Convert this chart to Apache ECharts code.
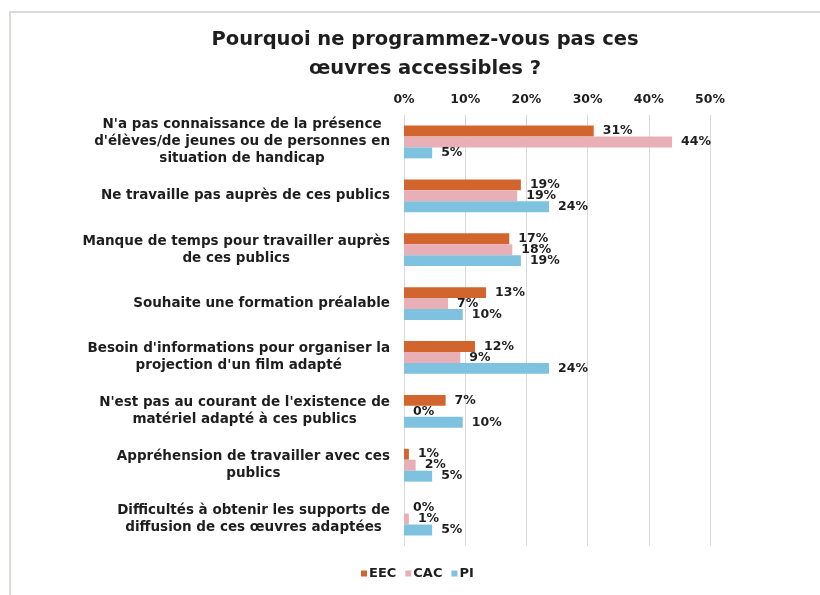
<!DOCTYPE html>
<html>
<head>
<meta charset="utf-8">
<script src="https://cdn.jsdelivr.net/npm/echarts@6/dist/echarts.min.js"></script>
<style>html,body{margin:0;padding:0;background:#fff;}#c{width:820px;height:595px;}</style>
</head>
<body>
<div id="c"></div>
<script>
const categories = [
  "N'a pas connaissance de la présence\nd'élèves/de jeunes ou de personnes en\nsituation de handicap",
  "Ne travaille pas auprès de ces publics",
  "Manque de temps pour travailler auprès\nde ces publics",
  "Souhaite une formation préalable",
  "Besoin d'informations pour organiser la\nprojection d'un film adapté",
  "N'est pas au courant de l'existence de\nmatériel adapté à ces publics",
  "Appréhension de travailler avec ces\npublics",
  "Difficultés à obtenir les supports de\ndiffusion de ces œuvres adaptées"
];
const seriesNames = ["EEC", "CAC", "PI"];
const eecValues = [31.0, 19.1, 17.2, 13.4, 11.6, 6.8, 0.8, 0];
const cacValues = [43.8, 18.5, 17.7, 7.2, 9.2, 0, 1.9, 0.8];
const piValues  = [4.6, 23.7, 19.1, 9.6, 23.7, 9.6, 4.6, 4.6];
const xTicks = [0, 10, 20, 30, 40, 50];
const colors = ["#D2642D", "#E8B0B6", "#7EC2E0"];

const FONT = "DejaVu Sans";
const TXT = "#1e1e1e";

const chart = echarts.init(document.getElementById('c'));
function mk(name, data, color) {
  return {
    name: name, type: 'bar', data: data,
    barGap: '0%', barCategoryGap: '39%',
    itemStyle: { color: color },
    label: {
      show: true, position: 'right', distance: 9,
      formatter: p => Math.round(p.value) + '%',
      fontFamily: FONT, fontWeight: 'bold', fontSize: 12.5, color: TXT
    }
  };
}
chart.setOption({
  animation: false,
  backgroundColor: '#fff',
  title: {
    text: 'Pourquoi ne programmez-vous pas ces\nœuvres accessibles ?',
    left: 420, top: 20, textAlign: 'center',
    textStyle: { fontFamily: FONT, fontWeight: 'bold', fontSize: 19.5, lineHeight: 29, color: TXT }
  },
  graphic: [
    { type: 'line', shape: { x1: 9, y1: 12, x2: 820, y2: 12 }, style: { stroke: '#dcdcd4', lineWidth: 2 } },
    { type: 'line', shape: { x1: 10, y1: 12, x2: 10, y2: 595 }, style: { stroke: '#dcdcd4', lineWidth: 2 } }
  ],
  legend: {
    data: seriesNames, bottom: 10, left: 356,
    icon: 'rect', itemWidth: 6, itemHeight: 6, itemGap: 9,
    textStyle: { fontFamily: FONT, fontWeight: 'bold', fontSize: 13, color: TXT, padding: [0, 0, 0, -3] }
  },
  grid: { left: 404, right: 110, top: 115, bottom: 49, containLabel: false },
  xAxis: {
    type: 'value', position: 'top', min: xTicks[0], max: xTicks[xTicks.length - 1], interval: 10,
    axisLine: { show: false }, axisTick: { show: false },
    splitLine: { lineStyle: { color: '#d9d9d9', width: 1 } },
    axisLabel: { formatter: '{value}%', margin: 9, fontFamily: FONT, fontWeight: 'bold', fontSize: 12.5, color: TXT }
  },
  yAxis: {
    type: 'category', inverse: true, data: categories,
    axisLine: { show: false }, axisTick: { show: false },
    axisLabel: {
      align: 'right', margin: 14,
      formatter: v => v.split('\n').map(l => '{c|' + l + '}').join('\n'),
      rich: { c: { align: 'center', fontFamily: FONT, fontWeight: 'bold', fontSize: 13.5, lineHeight: 17, color: TXT } }
    }
  },
  series: [
    mk(seriesNames[0], eecValues, colors[0]),
    mk(seriesNames[1], cacValues, colors[1]),
    mk(seriesNames[2], piValues, colors[2])
  ]
});
</script>
</body>
</html>
